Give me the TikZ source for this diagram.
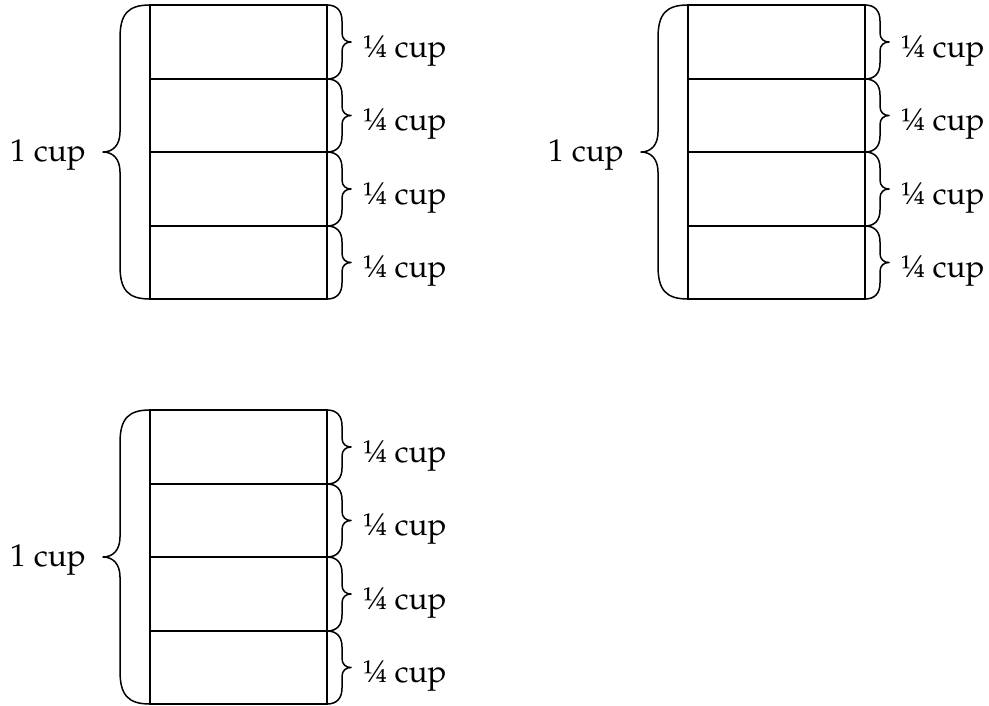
\documentclass[tikz,border=0pt]{standalone}
\usepackage[T1]{fontenc}
\usepackage{textcomp}
\usepackage{mathpazo}
\begin{document}
\begin{tikzpicture}[x=1pt,y=-1pt,
  boxline/.style={line width=1.9pt, line cap=rect},
  bracestyle/.style={line width=1.5pt, line join=round},
  cuplabel/.style={anchor=base west, inner sep=0pt, font=\fontsize{31.5}{36}\selectfont}]
\useasboundingbox (0,0) rectangle (989,705);
\foreach \dx/\dy/\n in {0/0/A,538/0/B,0/405/C}{
  \begin{scope}[shift={(\dx,\dy)}]
    \draw[boxline] (150,5) rectangle (327,299);
    \foreach \yy in {79,152,226}
      \draw[boxline] (150,\yy) -- (327,\yy);
    \draw[bracestyle] (150,5) .. controls (128,5) and (120,14) .. (120,38)
      -- (120,132) .. controls (120,145) and (113,152) .. (103,152)
      .. controls (113,152) and (120,159) .. (120,172)
      -- (120,266) .. controls (120,290) and (128,299) .. (150,299);
    \node[cuplabel] (\n one) at (10,161) {1 cup};
    \foreach \a/\b [count=\k] in {5/79,79/152,152/226,226/299}{
      \pgfmathsetmacro{\m}{(\a+\b)/2}
      \draw[bracestyle] (327,\a) .. controls (337,\a) and (342,{\a+6}) .. (342,{\a+16})
        -- (342,{\m-9}) .. controls (342,{\m-3}) and (346,\m) .. (351,\m)
        .. controls (346,\m) and (342,{\m+3}) .. (342,{\m+9})
        -- (342,{\b-16}) .. controls (342,{\b-6}) and (337,\b) .. (327,\b);
      \node[cuplabel] (\n q\k) at (363,{\m+15}) {\textonequarter{} cup};
    }
  \end{scope}
}
\end{tikzpicture}
\end{document}
